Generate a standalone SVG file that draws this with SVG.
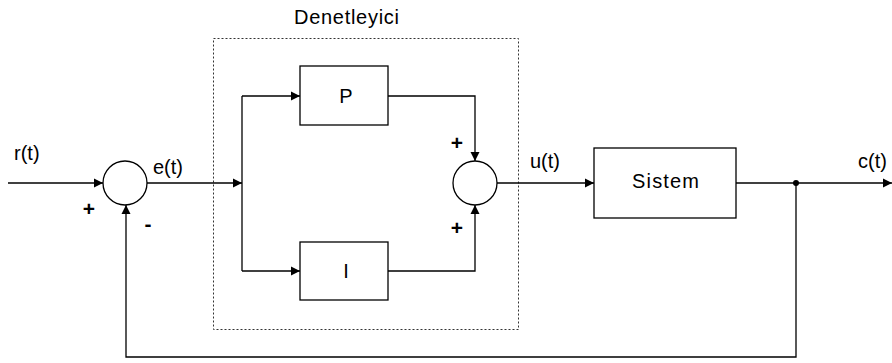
<svg xmlns="http://www.w3.org/2000/svg" width="892" height="363" viewBox="0 0 892 363">
<style>
.box{fill:#fff;stroke:#000;stroke-width:1.3}
.ln{fill:none;stroke:#000;stroke-width:1.3}
.dot{fill:none;stroke:#333;stroke-width:1;stroke-dasharray:2,2}
text{font-family:"Liberation Sans",Arial,sans-serif;font-size:20px;fill:#000}
.c{text-anchor:middle}
.sg{font-size:21px;font-weight:bold}
</style>
<defs>
<marker id="ah" markerWidth="10" markerHeight="10" refX="9" refY="5" orient="auto" markerUnits="userSpaceOnUse">
<path d="M0,0.5 L9,5 L0,9.5 z" fill="#000"/>
</marker>
</defs>
<rect width="892" height="363" fill="#fff"/>
<g id="controller">
<rect class="dot" x="213.5" y="38.5" width="305" height="291"/>
<text x="294" y="24" textLength="105" lengthAdjust="spacing">Denetleyici</text>
</g>
<g id="connectors">
<path class="ln" d="M8,183 H103" marker-end="url(#ah)"/>
<path class="ln" d="M147,183 H242" marker-end="url(#ah)"/>
<path class="ln" d="M242,96 V271"/>
<path class="ln" d="M242,96 H300" marker-end="url(#ah)"/>
<path class="ln" d="M242,271 H300" marker-end="url(#ah)"/>
<path class="ln" d="M388,96 H475 V161" marker-end="url(#ah)"/>
<path class="ln" d="M388,271 H475 V205" marker-end="url(#ah)"/>
<path class="ln" d="M497,183 H594" marker-end="url(#ah)"/>
<path class="ln" d="M736,183 H892" marker-end="url(#ah)"/>
<path class="ln" d="M796,183 V357 H126 V205" marker-end="url(#ah)"/>
<circle cx="796" cy="183" r="3" fill="#000"/>
</g>
<g id="sum1">
<circle class="box" cx="125" cy="183" r="22"/>
</g>
<g id="sum2">
<circle class="box" cx="475" cy="183" r="22"/>
</g>
<g id="P">
<rect class="box" x="300" y="66" width="88" height="59"/>
<text class="c" x="346" y="103">P</text>
</g>
<g id="I">
<rect class="box" x="300" y="242" width="88" height="58"/>
<text class="c" x="346" y="278">I</text>
</g>
<g id="sistem">
<rect class="box" x="594" y="148" width="142" height="70"/>
<text x="632" y="188" textLength="67" lengthAdjust="spacing">Sistem</text>
</g>
<g id="labels">
<text x="14" y="160">r(t)</text>
<text x="153" y="174">e(t)</text>
<text x="530" y="168">u(t)</text>
<text x="858" y="168">c(t)</text>
<text class="c sg" x="89" y="216">+</text>
<text class="c sg" x="148" y="231">-</text>
<text class="c sg" x="457" y="150">+</text>
<text class="c sg" x="457" y="235">+</text>
</g>
</svg>
